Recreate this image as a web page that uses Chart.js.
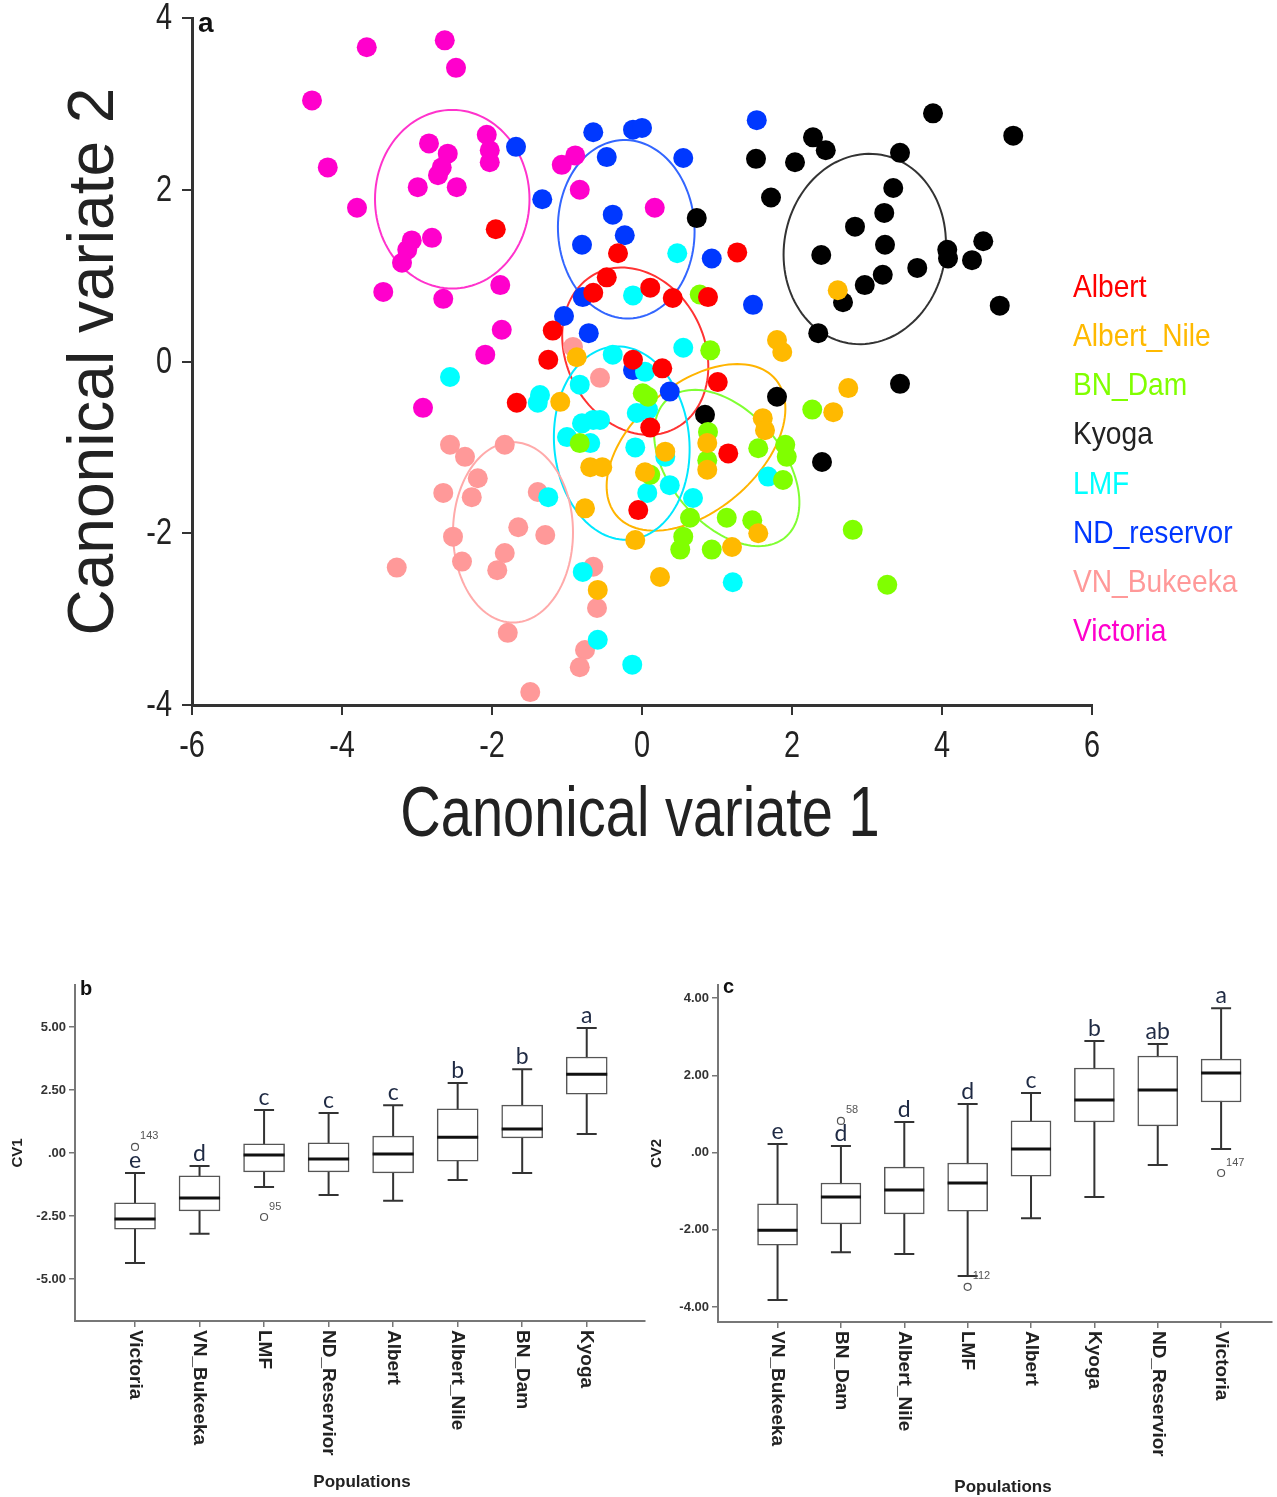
<!DOCTYPE html>
<html>
<head>
<meta charset="utf-8">
<script src="https://cdn.jsdelivr.net/npm/chart.js@4.4.1/dist/chart.umd.min.js"></script>
<style>
body { margin: 0; background: #fff; width: 1277px; height: 1497px; position: relative; overflow: hidden; }
canvas { position: absolute; }
#chartA { left: 0; top: 0; }
#chartB { left: 0; top: 960px; }
#chartC { left: 650px; top: 960px; }
</style>
</head>
<body>
<canvas id="chartA" width="1277" height="870"></canvas>
<canvas id="chartB" width="650" height="537"></canvas>
<canvas id="chartC" width="627" height="537"></canvas>
<script>
/* ---------- data: canonical variate scores (panel a) ---------- */
const groupNames = ['Albert', 'Albert_Nile', 'BN_Dam', 'Kyoga', 'LMF', 'ND_reservor', 'VN_Bukeeka', 'Victoria'];

const albertPts = [[-1.95,1.54],[1.27,1.27],[-0.32,1.26],[-0.47,0.98],[-0.65,0.80],[0.11,0.86],[0.41,0.74],[0.88,0.75],[-1.19,0.36],[-1.25,0.02],[-0.12,0.02],[0.27,-0.08],[1.01,-0.24],[-1.67,-0.48],[0.11,-0.77],[1.15,-1.07],[-0.05,-1.73]];
const albertNilePts = [[2.61,0.83],[1.80,0.25],[1.87,0.11],[2.75,-0.31],[2.55,-0.59],[1.61,-0.66],[1.64,-0.80],[0.87,-0.95],[0.87,-1.26],[-1.09,-0.47],[-0.87,0.05],[-0.69,-1.23],[-0.53,-1.23],[-0.76,-1.71],[-0.09,-2.08],[0.04,-1.29],[0.31,-1.05],[0.24,-2.51],[-0.59,-2.66],[1.20,-2.16],[1.55,-2.00]];
const bnDamPts = [[0.77,0.78],[0.91,0.13],[0.01,-0.37],[0.08,-0.41],[-0.83,-0.95],[0.88,-0.82],[0.87,-1.15],[1.55,-1.01],[1.91,-0.97],[1.93,-1.11],[1.88,-1.38],[2.27,-0.56],[0.11,-1.32],[0.64,-1.82],[0.55,-2.04],[0.51,-2.19],[0.93,-2.19],[1.13,-1.82],[1.47,-1.85],[2.81,-1.96],[3.27,-2.60]];
const kyogaPts = [[3.88,2.89],[4.95,2.63],[2.28,2.61],[2.45,2.46],[1.52,2.36],[2.04,2.32],[3.44,2.43],[1.72,1.91],[3.35,2.02],[3.23,1.73],[2.84,1.57],[2.39,1.24],[3.24,1.36],[4.07,1.30],[4.08,1.20],[4.55,1.40],[4.40,1.18],[3.67,1.09],[3.21,1.01],[2.97,0.89],[2.68,0.69],[2.35,0.33],[4.77,0.65],[0.73,1.67],[1.80,-0.41],[0.84,-0.62],[2.40,-1.17],[3.44,-0.26]];
const lmfPts = [[-2.56,-0.18],[-1.36,-0.39],[-1.39,-0.48],[-0.83,-0.27],[-0.39,0.08],[0.04,-0.12],[0.55,0.16],[0.47,1.26],[-0.12,0.77],[-0.80,-0.72],[-1.00,-0.88],[-0.65,-0.68],[-0.56,-0.68],[-0.69,-0.95],[-0.07,-0.60],[0.08,-0.56],[-0.09,-1.00],[0.31,-1.11],[0.37,-1.44],[0.07,-1.53],[0.68,-1.59],[-1.25,-1.58],[-0.79,-2.45],[-0.59,-3.24],[-0.13,-3.53],[1.21,-2.57],[1.68,-1.34]];
const ndPts = [[-1.68,2.50],[-1.33,1.89],[-0.65,2.67],[-0.47,2.38],[-0.12,2.70],[0.00,2.72],[0.55,2.37],[-0.39,1.71],[-0.23,1.47],[-0.80,1.36],[-0.79,0.75],[-1.04,0.53],[-0.71,0.33],[-0.12,-0.10],[0.37,-0.35],[0.93,1.20],[1.48,0.66],[1.53,2.81]];
const vnPts = [[-2.56,-0.97],[-2.36,-1.11],[-1.83,-0.97],[-2.19,-1.36],[-2.27,-1.58],[-2.65,-1.53],[-1.39,-1.52],[-1.65,-1.93],[-1.29,-2.02],[-2.52,-2.04],[-2.40,-2.33],[-1.83,-2.23],[-1.93,-2.43],[-3.27,-2.40],[-1.79,-3.16],[-1.49,-3.85],[-0.92,0.17],[-0.56,-0.19],[-0.65,-2.39],[-0.60,-2.87],[-0.76,-3.36],[-0.83,-3.56]];
const victoriaPts = [[-3.67,3.66],[-2.63,3.74],[-2.48,3.42],[-4.40,3.04],[-4.19,2.26],[-3.80,1.79],[-2.84,2.54],[-2.59,2.42],[-2.67,2.26],[-2.72,2.17],[-2.99,2.03],[-2.47,2.03],[-2.07,2.64],[-2.03,2.46],[-2.03,2.32],[-2.80,1.44],[-3.07,1.41],[-3.13,1.30],[-3.20,1.15],[-3.45,0.81],[-2.65,0.73],[-1.89,0.89],[-1.87,0.37],[-2.09,0.08],[-1.07,2.29],[-0.89,2.40],[-0.83,2.00],[0.17,1.79],[-2.92,-0.54]];

const groupPts = [albertPts, albertNilePts, bnDamPts, kyogaPts, lmfPts, ndPts, vnPts, victoriaPts];

// group ellipses: centre, semi-axes, rotation (deg)
const ellipseCenters = [[-0.09,0.12],[0.72,-1.00],[1.13,-1.24],[2.97,1.31],[-0.27,-0.95],[-0.21,1.54],[-1.72,-1.99],[-2.53,1.89]];
const ellipseAxes = [[1.06,0.88],[1.33,0.77],[1.13,0.70],[1.13,1.06],[0.90,1.13],[0.91,1.04],[0.80,1.05],[1.03,1.04]];
const ellipseAngles = [-45, 33, -41, 56, 8, 5, 0, 0];

const axisTicksA = { x: [-6, -4, -2, 0, 2, 4, 6], y: [-4, -2, 0, 2, 4] };

/* ---------- data: box plots (panels b, c) ---------- */
const cv1Labels = ['Victoria', 'VN_Bukeeka', 'LMF', 'ND_Reservior', 'Albert', 'Albert_Nile', 'BN_Dam', 'Kyoga'];
const cv1Min = [-4.37, -3.21, -1.35, -1.67, -1.90, -1.07, -0.79, 0.75];
const cv1Q1 = [-3.02, -2.30, -0.75, -0.75, -0.79, -0.32, 0.60, 2.34];
const cv1Med = [-2.62, -1.79, -0.08, -0.24, -0.04, 0.63, 0.95, 3.13];
const cv1Q3 = [-1.98, -0.91, 0.36, 0.40, 0.67, 1.75, 1.90, 3.81];
const cv1Max = [-0.79, -0.52, 1.71, 1.59, 1.90, 2.78, 3.33, 4.96];
const cv1Letters = ['e', 'd', 'c', 'c', 'c', 'b', 'b', 'a'];
const cv1Outliers = [[0, 0.24, '143'], [2, -2.54, '95']];
const cv1Ticks = [-5, -2.5, 0, 2.5, 5];

const cv2Labels = ['VN_Bukeeka', 'BN_Dam', 'Albert_Nile', 'LMF', 'Albert', 'Kyoga', 'ND_Reservior', 'Victoria'];
const cv2Min = [-3.82, -2.58, -2.63, -3.20, -1.70, -1.15, -0.32, 0.09];
const cv2Q1 = [-2.40, -1.85, -1.59, -1.52, -0.61, 0.79, 0.69, 1.31];
const cv2Med = [-2.01, -1.15, -0.97, -0.79, 0.09, 1.36, 1.62, 2.06];
const cv2Q3 = [-1.33, -0.79, -0.38, -0.27, 0.82, 2.19, 2.50, 2.42];
const cv2Max = [0.22, 0.17, 0.79, 1.26, 1.54, 2.89, 2.81, 3.74];
const cv2Letters = ['e', 'd', 'd', 'd', 'c', 'b', 'ab', 'a'];
const cv2Outliers = [[1, 0.82, '58'], [3, -3.48, '112'], [7, -0.53, '147']];
const cv2Ticks = [-4, -2, 0, 2, 4];

/* ---------- styles ---------- */
const SANS = "'Liberation Sans', Arial, sans-serif";
const pointColors = ['#ff0000', '#ffb900', '#80ff00', '#000000', '#00ffff', '#0038ff', '#ff9999', '#ff00cc'];
const ellipseColors = ['#ff3333', '#ffb400', '#80ff33', '#333333', '#00e8ff', '#3366ff', '#ffaaaa', '#ff33cc'];
const legendColors = ['#ff0000', '#ffb900', '#80ff00', '#222222', '#00ffff', '#0038ff', '#ff9999', '#ff00cc'];

// condensed text (the original uses a narrow face)
function narrowText(ctx, text, x, y, size, sx, align) {
	ctx.save();
	ctx.translate(x, y);
	ctx.scale(sx, 1);
	ctx.font = size + 'px ' + SANS;
	ctx.textAlign = align;
	ctx.fillText(text, 0, 0);
	ctx.restore();
}

/* panel a: ellipses behind the points */
const ellipsePlugin = {
	id: 'ellipses',
	beforeDatasetsDraw(chart) {
		const { ctx, scales: { x, y } } = chart;
		ctx.save();
		ctx.lineWidth = 2;
		groupNames.forEach((name, g) => {
			const [cx, cy] = ellipseCenters[g];
			const [a, b] = ellipseAxes[g];
			const t = ellipseAngles[g] * Math.PI / 180;
			ctx.beginPath();
			for (let k = 0; k <= 120; k++) {
				const s = k / 120 * 2 * Math.PI;
				const dx = a * Math.cos(s), dy = b * Math.sin(s);
				const px = x.getPixelForValue(cx + dx * Math.cos(t) - dy * Math.sin(t));
				const py = y.getPixelForValue(cy + dx * Math.sin(t) + dy * Math.cos(t));
				if (k === 0) ctx.moveTo(px, py); else ctx.lineTo(px, py);
			}
			ctx.closePath();
			ctx.strokeStyle = ellipseColors[g];
			ctx.stroke();
		});
		ctx.restore();
	}
};

/* panel a: tick labels, titles, legend, panel letter */
const textPluginA = {
	id: 'textA',
	afterDraw(chart) {
		const { ctx, chartArea, scales: { x, y } } = chart;
		ctx.save();
		ctx.fillStyle = '#222';
		ctx.textBaseline = 'middle';
		axisTicksA.x.forEach(v => narrowText(ctx, String(v), x.getPixelForValue(v), chartArea.bottom + 42, 37, 0.78, 'center'));
		axisTicksA.y.forEach(v => narrowText(ctx, String(v), chartArea.left - 20, y.getPixelForValue(v) + 1, 37, 0.78, 'right'));

		narrowText(ctx, 'Canonical variate 1', (chartArea.left + chartArea.right) / 2 - 2, chartArea.bottom + 112, 70, 0.8, 'center');
		ctx.save();
		ctx.translate(95, (chartArea.top + chartArea.bottom) / 2);
		ctx.rotate(-Math.PI / 2);
		narrowText(ctx, 'Canonical variate 2', 0, 0, 64, 1.0, 'center');
		ctx.restore();

		ctx.font = 'bold 28px ' + SANS;
		ctx.fillStyle = '#111';
		ctx.textBaseline = 'alphabetic';
		ctx.textAlign = 'left';
		ctx.fillText('a', chartArea.left + 6, 32);

		ctx.textBaseline = 'middle';
		chart.data.datasets.forEach((ds, i) => {
			ctx.fillStyle = legendColors[i];
			narrowText(ctx, ds.label, 1073, 288 + i * 49.2, 32, 0.88, 'left');
		});
		ctx.restore();
	}
};

new Chart(document.getElementById('chartA'), {
	type: 'scatter',
	data: {
		datasets: groupNames.map((name, i) => ({
			label: name,
			data: groupPts[i].map(p => ({ x: p[0], y: p[1] })),
			backgroundColor: pointColors[i],
			borderWidth: 0,
			pointRadius: 10,
			pointHoverRadius: 10
		}))
	},
	options: {
		responsive: false,
		animation: false,
		layout: { padding: { left: 0, right: 185, top: 18, bottom: 0 } },
		plugins: { legend: { display: false }, tooltip: { enabled: false } },
		scales: {
			x: {
				type: 'linear', min: -6, max: 6,
				afterBuildTicks: ax => { ax.ticks = axisTicksA.x.map(v => ({ value: v })); },
				ticks: { display: false },
				grid: { drawOnChartArea: false, tickLength: 10, color: '#333', lineWidth: 2 },
				border: { color: '#333', width: 3 },
				afterFit: ax => { ax.height = 165; }
			},
			y: {
				type: 'linear', min: -4, max: 4,
				afterBuildTicks: ax => { ax.ticks = axisTicksA.y.map(v => ({ value: v })); },
				ticks: { display: false },
				grid: { drawOnChartArea: false, tickLength: 10, color: '#333', lineWidth: 2 },
				border: { color: '#333', width: 3 },
				afterFit: ax => { ax.width = 192; }
			}
		}
	},
	plugins: [ellipsePlugin, textPluginA]
});

/* ---------- box plots ---------- */
function fmtTick(v) {
	let s = Math.abs(v).toFixed(2);
	if (s.startsWith('0')) s = s.slice(1);
	return (v < 0 ? '-' : '') + s;
}

function boxChart(id, c) {
	const boxPlugin = {
		id: 'box_' + id,
		beforeDatasetsDraw(chart) {
			const { ctx, scales: { x, y } } = chart;
			ctx.save();
			ctx.strokeStyle = '#333';
			ctx.lineWidth = 2;
			c.labels.forEach((_, i) => {
				const px = x.getPixelForValue(i);
				const top = y.getPixelForValue(c.max[i]);
				const bot = y.getPixelForValue(c.min[i]);
				ctx.beginPath();
				ctx.moveTo(px, top); ctx.lineTo(px, bot);
				ctx.moveTo(px - 10, top); ctx.lineTo(px + 10, top);
				ctx.moveTo(px - 10, bot); ctx.lineTo(px + 10, bot);
				ctx.stroke();
			});
			ctx.restore();
		},
		afterDatasetsDraw(chart) {
			const { ctx, scales: { x, y } } = chart;
			ctx.save();
			ctx.strokeStyle = '#111';
			ctx.lineWidth = 3;
			c.labels.forEach((_, i) => {
				const px = x.getPixelForValue(i);
				const py = y.getPixelForValue(c.med[i]);
				ctx.beginPath();
				ctx.moveTo(px - c.boxWidth / 2, py); ctx.lineTo(px + c.boxWidth / 2, py);
				ctx.stroke();
			});
			// significance letters
			ctx.fillStyle = '#1f2a44';
			ctx.font = '23px Lato, ' + SANS;
			ctx.textAlign = 'center';
			ctx.textBaseline = 'bottom';
			c.labels.forEach((_, i) => {
				ctx.fillText(c.letters[i], x.getPixelForValue(i), y.getPixelForValue(c.max[i]) - 1);
			});
			// outlier case numbers
			ctx.fillStyle = '#555';
			ctx.font = '11px ' + SANS;
			ctx.textAlign = 'left';
			c.outliers.forEach(o => {
				ctx.fillText(o[2], x.getPixelForValue(o[0]) + 5, y.getPixelForValue(o[1]) - 5);
			});
			ctx.restore();
		},
		afterDraw(chart) {
			const { ctx, chartArea, scales: { x } } = chart;
			ctx.save();
			ctx.fillStyle = '#222';
			ctx.font = 'bold 19px ' + SANS;
			ctx.textAlign = 'left';
			ctx.textBaseline = 'middle';
			c.labels.forEach((lab, i) => {
				ctx.save();
				ctx.translate(x.getPixelForValue(i), chartArea.bottom + 9);
				ctx.rotate(Math.PI / 2);
				ctx.fillText(lab, 0, 0);
				ctx.restore();
			});
			ctx.textAlign = 'center';
			ctx.font = 'bold 17px ' + SANS;
			ctx.fillText('Populations', c.xTitleX, c.xTitleY);
			ctx.save();
			ctx.translate(c.yTitleX, (chartArea.top + chartArea.bottom) / 2);
			ctx.rotate(-Math.PI / 2);
			ctx.font = 'bold 15px ' + SANS;
			ctx.fillText(c.yTitle, 0, 0);
			ctx.restore();
			ctx.textAlign = 'left';
			ctx.textBaseline = 'alphabetic';
			ctx.font = 'bold 20px ' + SANS;
			ctx.fillStyle = '#111';
			ctx.fillText(c.panel, chartArea.left + 5, c.panelY);
			ctx.restore();
		}
	};

	return new Chart(document.getElementById(id), {
		type: 'bar',
		data: {
			datasets: [
				{
					type: 'bar',
					data: c.labels.map((_, i) => ({ x: i, y: [c.q1[i], c.q3[i]] })),
					backgroundColor: '#fff',
					borderColor: '#555',
					borderWidth: 1.5,
					borderSkipped: false,
					barThickness: c.boxWidth
				},
				{
					type: 'scatter',
					data: c.outliers.map(o => ({ x: o[0], y: o[1] })),
					backgroundColor: '#fff',
					borderColor: '#555',
					borderWidth: 1.2,
					pointRadius: 3.5
				}
			]
		},
		options: {
			responsive: false,
			animation: false,
			layout: { padding: { left: 0, right: c.padRight, top: 25, bottom: 0 } },
			plugins: { legend: { display: false }, tooltip: { enabled: false } },
			scales: {
				x: {
					type: 'linear', min: c.xMin, max: c.xMax, offset: false,
					afterBuildTicks: ax => { ax.ticks = c.labels.map((_, i) => ({ value: i })); },
					ticks: { display: false },
					grid: { offset: false, drawOnChartArea: false, tickLength: 6, color: '#777', lineWidth: 1.5 },
					border: { color: '#777', width: 2 },
					afterFit: ax => { ax.height = c.xAxisHeight; }
				},
				y: {
					type: 'linear', min: c.yMin, max: c.yMax,
					afterBuildTicks: ax => { ax.ticks = c.ticks.map(v => ({ value: v })); },
					ticks: { callback: v => fmtTick(v), color: '#333', padding: 3, font: { family: SANS, size: 13, weight: 'bold' } },
					grid: { drawOnChartArea: false, tickLength: 6, color: '#777', lineWidth: 1.5 },
					border: { color: '#777', width: 2 },
					afterFit: ax => { ax.width = c.yAxisWidth; }
				}
			}
		},
		plugins: [boxPlugin]
	});
}

boxChart('chartB', {
	labels: cv1Labels, min: cv1Min, q1: cv1Q1, med: cv1Med, q3: cv1Q3, max: cv1Max,
	letters: cv1Letters, outliers: cv1Outliers, ticks: cv1Ticks,
	yMin: -6.67, yMax: 6.67, xMin: -0.93, xMax: 7.9,
	boxWidth: 41, yAxisWidth: 75, xAxisHeight: 176, padRight: 5,
	yTitle: 'CV1', yTitleX: 18, xTitleX: 362, xTitleY: 522, panel: 'b', panelY: 35
});

boxChart('chartC', {
	labels: cv2Labels, min: cv2Min, q1: cv2Q1, med: cv2Med, q3: cv2Q3, max: cv2Max,
	letters: cv2Letters, outliers: cv2Outliers, ticks: cv2Ticks,
	yMin: -4.39, yMax: 4.34, xMin: -0.94, xMax: 7.8,
	boxWidth: 40, yAxisWidth: 68, xAxisHeight: 175, padRight: 0,
	yTitle: 'CV2', yTitleX: 7, xTitleX: 353, xTitleY: 527, panel: 'c', panelY: 33
});
</script>
</body>
</html>
